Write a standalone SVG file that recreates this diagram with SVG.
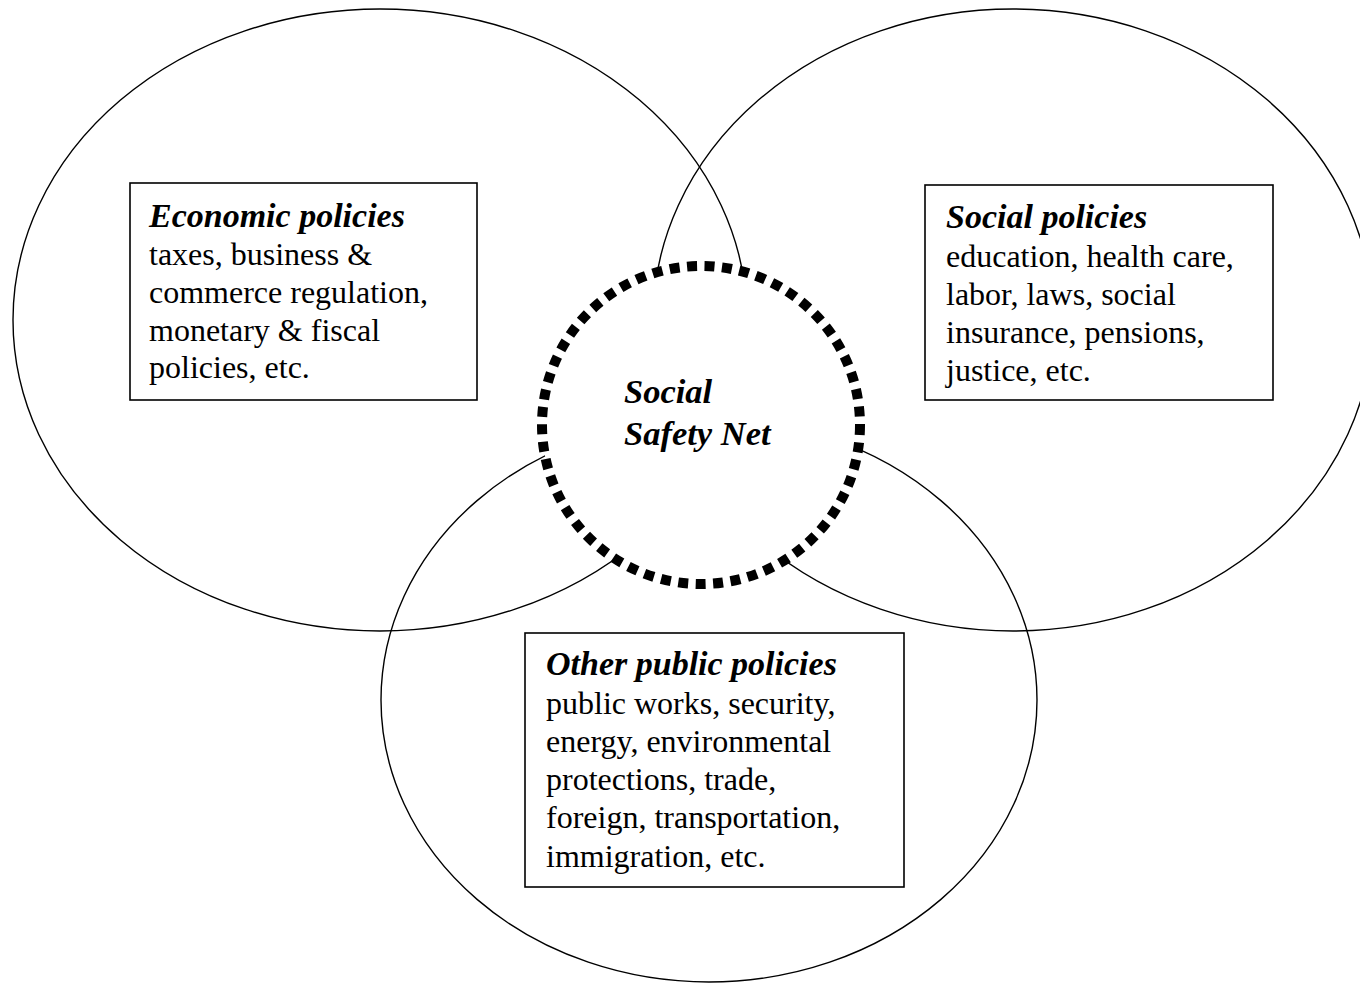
<svg xmlns="http://www.w3.org/2000/svg" width="1360" height="983" viewBox="0 0 1360 983">
<style>
.ell{fill:none;stroke:#000;stroke-width:1.4}
.box{fill:#fff;stroke:#000;stroke-width:1.6}
.t{font-family:"Liberation Serif","Times New Roman",serif;font-size:32px;fill:#000}
.h{font-weight:bold;font-style:italic;font-size:34px}
.c{font-style:italic;font-weight:bold;font-size:34.5px}
</style>
<rect width="1360" height="983" fill="#fff"/>
<g id="connectors">
<ellipse id="ell-economic" class="ell" cx="380" cy="320" rx="367" ry="311"/>
<ellipse id="ell-social" class="ell" cx="1013" cy="320" rx="360" ry="311"/>
<ellipse id="ell-other" class="ell" cx="709" cy="700" rx="328" ry="282"/>
</g>
<g id="safety-net">
<circle cx="701" cy="425" r="159" fill="#fff" stroke="#000" stroke-width="10" stroke-dasharray="10 7.5"/>
<text class="t c" x="624" y="403">Social</text>
<text class="t c" x="624" y="445">Safety Net</text>
</g>
<g id="economic">
<rect class="box" x="130" y="183" width="347" height="217"/>
<text class="t h" x="149" y="227">Economic policies</text>
<text class="t" x="149" y="265">taxes, business &amp;</text>
<text class="t" x="149" y="303">commerce regulation,</text>
<text class="t" x="149" y="341">monetary &amp; fiscal</text>
<text class="t" x="149" y="378">policies, etc.</text>
</g>
<g id="social">
<rect class="box" x="925" y="185" width="348" height="215"/>
<text class="t h" x="946" y="228">Social policies</text>
<text class="t" x="946" y="267">education, health care,</text>
<text class="t" x="946" y="305">labor, laws, social</text>
<text class="t" x="946" y="343">insurance, pensions,</text>
<text class="t" x="946" y="381">justice, etc.</text>
</g>
<g id="other">
<rect class="box" x="525" y="633" width="379" height="254"/>
<text class="t h" x="546" y="675">Other public policies</text>
<text class="t" x="546" y="714">public works, security,</text>
<text class="t" x="546" y="752">energy, environmental</text>
<text class="t" x="546" y="790">protections, trade,</text>
<text class="t" x="546" y="828">foreign, transportation,</text>
<text class="t" x="546" y="867">immigration, etc.</text>
</g>
</svg>
